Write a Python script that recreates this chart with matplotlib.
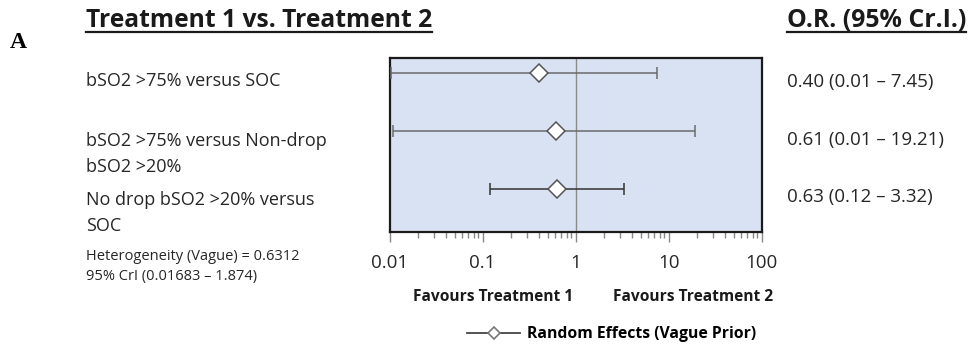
import matplotlib
matplotlib.use("Agg")
import matplotlib.pyplot as plt
from matplotlib.lines import Line2D

# ---- data ----
comparisons = [["bSO2 >75% versus SOC"],
               ["bSO2 >75% versus Non-drop", "bSO2 >20%"],
               ["No drop bSO2 >20% versus", "SOC"]]
odds_ratio = [0.40, 0.61, 0.63]
ci_low = [0.0105, 0.011, 0.12]
ci_high = [7.45, 19.21, 3.32]
or_labels = ["0.40 (0.01 \u2013 7.45)", "0.61 (0.01 \u2013 19.21)", "0.63 (0.12 \u2013 3.32)"]
tick_values = [0.01, 0.1, 1, 10, 100]
tick_labels = ["0.01", "0.1", "1", "10", "100"]
heterogeneity = ["Heterogeneity (Vague) = 0.6312", "95% CrI (0.01683 \u2013 1.874)"]
row_pos = [3, 2, 1]

W, H = 972, 349
fig = plt.figure(figsize=(W / 100, H / 100), dpi=100)
FONT = "Open Sans"
TXT = "#262626"

def fx(px):
    return px / W

def fy(py):
    return 1 - py / H

ax = fig.add_axes([fx(389.5), fy(232), fx(761.7 - 389.5), (232 - 58) / H])
ax.set_facecolor("#d9e2f3")
ax.set_xscale("log")
ax.set_xlim(0.01, 100)
ax.set_ylim(0.26, 3.25)
for s in ax.spines.values():
    s.set_color("#1a1a1a")
    s.set_linewidth(1.6)

ax.axvline(1, color="#8c8c8c", lw=1.0, zorder=1)

colors = ["#6a6a6a", "#6a6a6a", "#333333"]
for y, m, lo, hi, c in zip(row_pos, odds_ratio, ci_low, ci_high, colors):
    ax.errorbar([m], [y], xerr=[[m - lo], [hi - m]], fmt="D", ms=9.5,
                mfc="white", mec="#555555", mew=1.1, ecolor=c, elinewidth=1.1,
                capsize=4, capthick=1.1, zorder=3)

ax.set_yticks([])
ax.set_xticks(tick_values)
ax.set_xticklabels(tick_labels, fontfamily=FONT, fontsize=13.5, color=TXT)
ax.tick_params(axis="x", which="major", length=7, width=1, color="#888888", pad=9)
ax.tick_params(axis="x", which="minor", length=4, width=1, color="#888888")

t1 = fig.text(fx(86), fy(27), "Treatment 1 vs. Treatment 2", fontfamily=FONT,
              fontweight="bold", fontsize=17.7, color="#1a1a1a", va="baseline")
t2 = fig.text(fx(787), fy(27), "O.R. (95% Cr.I.)", fontfamily=FONT,
              fontweight="bold", fontsize=17.9, color="#1a1a1a", va="baseline")

fig.text(fx(10), fy(48), "A", fontfamily="Liberation Serif", fontweight="bold",
         fontsize=17, color="black", va="baseline")

# row labels (baselines in pixels)
label_baselines = [[86], [146, 172], [205, 231]]
for lines, bls in zip(comparisons, label_baselines):
    for s, b in zip(lines, bls):
        fig.text(fx(86), fy(b), s, fontfamily=FONT, fontsize=13, color=TXT,
                 va="baseline", ha="left")

for s, b in zip(heterogeneity, [260, 280]):
    fig.text(fx(86), fy(b), s, fontfamily=FONT, fontsize=10.5, color=TXT,
             va="baseline", ha="left")

# right column OR labels
for s, b in zip(or_labels, [87, 145, 202]):
    fig.text(fx(787), fy(b), s, fontfamily=FONT, fontsize=13.5,
             color=TXT, va="baseline", ha="left")

fig.text(fx(413), fy(297), "Favours Treatment 1", fontfamily=FONT, fontweight="bold",
         fontsize=11.2, color="#1a1a1a", va="center", ha="left")
fig.text(fx(613), fy(297), "Favours Treatment 2", fontfamily=FONT, fontweight="bold",
         fontsize=11.2, color="#1a1a1a", va="center", ha="left")

handle = Line2D([], [], color="#444444", lw=1.3, marker="D", ms=6,
                mfc="white", mec="#777777", mew=1.2)
fig.legend([handle], ["Random Effects (Vague Prior)"], loc="center left",
           bbox_to_anchor=(fx(459), fy(334)), frameon=False, handlelength=3.4,
           prop={"family": FONT, "weight": "bold", "size": 11.3}, borderpad=0,
           handletextpad=0.45)

fig.canvas.draw()
r = fig.canvas.get_renderer()
for t in (t1, t2):
    bb = t.get_window_extent(r)
    yline = H - 32
    fig.add_artist(Line2D([bb.x0 / W, bb.x1 / W], [yline / H, yline / H],
                          transform=fig.transFigure, color="#1a1a1a", lw=1.6))

fig.savefig("out.png", dpi=100)
